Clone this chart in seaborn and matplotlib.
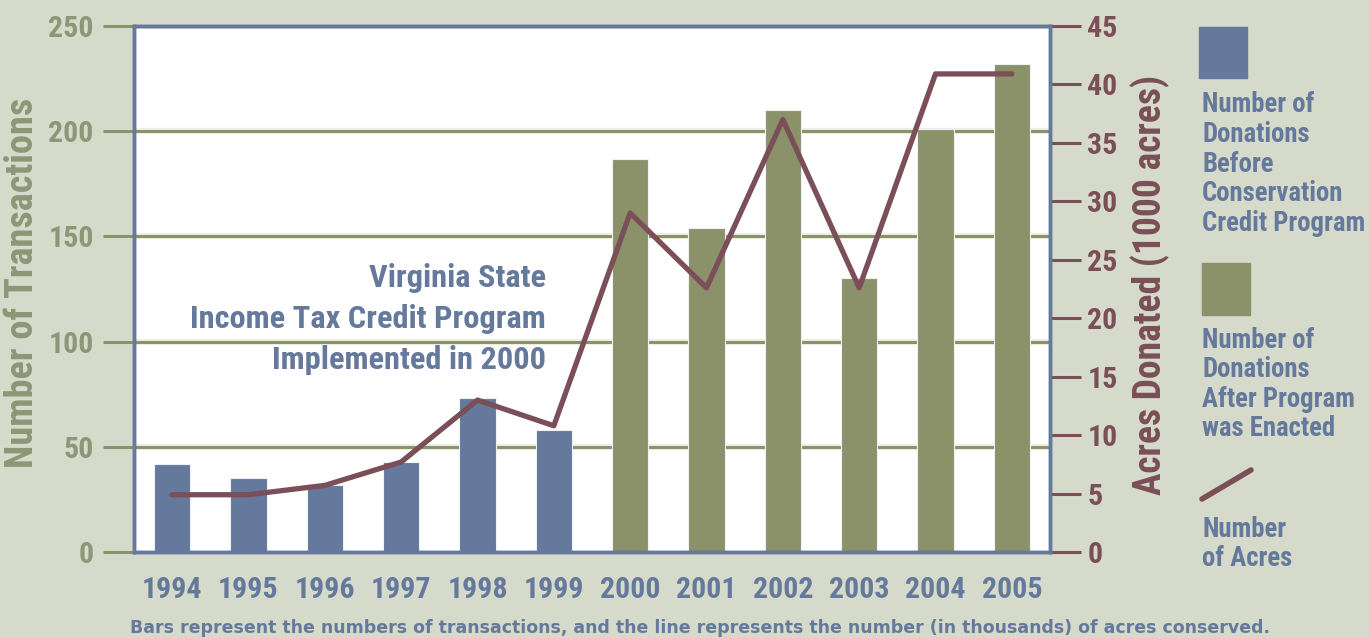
import numpy as np
import pandas as pd
import matplotlib
matplotlib.use("Agg")
import matplotlib.pyplot as plt
import matplotlib.font_manager as fm
import seaborn as sns
from matplotlib.patches import Rectangle
from matplotlib.lines import Line2D
from matplotlib.ticker import FixedLocator

years = ["1994", "1995", "1996", "1997", "1998", "1999",
         "2000", "2001", "2002", "2003", "2004", "2005"]
transactions = [42, 35, 32, 43, 73, 58, 187, 154, 210, 130, 201, 232]
acres = [4.9, 4.9, 5.7, 7.7, 13.0, 10.8, 29.0, 22.6, 37.0, 22.6, 40.9, 40.9]
period = ["Before"] * 6 + ["After"] * 6

left_ticks = [0, 50, 100, 150, 200, 250]
right_ticks = [0, 5, 10, 15, 20, 25, 30, 35, 40, 45]

BG = "#d6dacb"
BLUE = "#64799b"
OLIVE = "#8b926a"
MAROON = "#7a4f57"
LABEL_OLIVE = "#8e9677"

sns.set_theme(style="white")
plt.rcParams["font.family"] = ["DejaVu Sans"]

def find_condensed():
    prefs = ["RobotoCondensed-Bold", "LiberationSansNarrow-Bold.",
             "DejaVuSansCondensed-Bold.", "OpenSans_Condensed-Bold",
             "OpenSansCondensed-Bold", "NotoSans-CondensedBold",
             "Roboto_Condensed-Bold"]
    files = [f.fname for f in fm.fontManager.ttflist]
    for p in prefs:
        for fn in files:
            if p.lower() in fn.lower().replace(" ", ""):
                return fn
    for fn in files:
        low = fn.lower()
        if ("condensed" in low or "narrow" in low) and "bold" in low and "italic" not in low and "oblique" not in low:
            return fn
    return None

CF = find_condensed()
COND = CF is not None

def fp(size):
    if COND:
        return fm.FontProperties(fname=CF, size=size)
    return fm.FontProperties(family="DejaVu Sans", weight="bold",
                             stretch="condensed", size=size * 0.82)

W, H = 1369, 638
fig = plt.figure(figsize=(W / 100, H / 100), dpi=100, facecolor=BG)
ax = fig.add_axes([134 / W, (H - 552) / H, 916 / W, 526 / H])
ax.set_facecolor("white")

df = pd.DataFrame({"year": years, "n": transactions, "period": period})

for t in left_ticks[1:]:
    ax.axhline(t, color="#eef0e6", lw=4.5, zorder=0.5)
    ax.axhline(t, color=OLIVE, lw=2.2, zorder=0.6)

sns.barplot(data=df, x="year", y="n", hue="period",
            palette={"Before": BLUE, "After": OLIVE},
            dodge=False, width=0.48, saturation=1, legend=False, ax=ax,
            zorder=2, edgecolor="#eef0f4", linewidth=0.8)

ax.set_xlim(-0.5, 11.5)
ax.set_ylim(0, 250)
ax.set_xlabel("")
ax.set_ylabel("Number of Transactions", color=LABEL_OLIVE,
              fontproperties=fp(27.5))
ax.yaxis.set_label_coords((41 - 134) / 916, (552 - 283) / 526)
ax.set_yticks(left_ticks)
ax.set_yticklabels([str(t) for t in left_ticks])
ax.tick_params(axis="y", colors=OLIVE, length=22, width=2.2, pad=7,
               labelcolor=LABEL_OLIVE)
ax.set_xticks(range(len(years)))
ax.set_xticklabels(years)
ax.tick_params(axis="x", which="major", length=0, pad=17, labelcolor=BLUE)
ax.xaxis.set_minor_locator(FixedLocator(np.arange(-0.5, 12, 1.0)))
ax.tick_params(axis="x", which="minor", length=25, width=2, color=BLUE,
               direction="out")
for s in ax.spines.values():
    s.set_color(BLUE)
    s.set_linewidth(2.5)
for lab in ax.get_yticklabels():
    lab.set_fontproperties(fp(21.5))
for lab in ax.get_xticklabels():
    lab.set_fontproperties(fp(21.5))

ax2 = ax.twinx()
sns.lineplot(x=np.arange(len(years)), y=acres, color=MAROON, lw=3.8, ax=ax2,
             zorder=5)
ax2.set_ylim(0, 45)
ax2.set_yticks(right_ticks)
ax2.set_yticklabels([str(t) for t in right_ticks])
ax2.tick_params(axis="y", colors=MAROON, length=22, width=2.2, pad=5,
                labelcolor=MAROON)
for lab in ax2.get_yticklabels():
    lab.set_fontproperties(fp(21.5))
ax2.set_ylabel("Acres Donated (1000 acres)", color=MAROON,
               fontproperties=fp(27))
ax2.yaxis.set_label_coords((1131 - 134) / 916, (552 - 285) / 526)
for s in ax2.spines.values():
    s.set_color(BLUE)
    s.set_linewidth(2.5)

fig.text(546 / W, 1 - 319 / H,
         "Virginia State\nIncome Tax Credit Program\nImplemented in 2000",
         ha="right", va="center", color=BLUE, fontproperties=fp(23.3),
         linespacing=1.45, multialignment="right")

fig.add_artist(Rectangle((1199 / W, 1 - 78 / H), 48 / W, 51 / H,
                         transform=fig.transFigure, color=BLUE))
fig.text(1202 / W, 1 - 164 / H,
         "Number of\nDonations\nBefore\nConservation\nCredit Program",
         ha="left", va="center", color=BLUE, fontproperties=fp(19.3),
         linespacing=1.12)
fig.add_artist(Rectangle((1202 / W, 1 - 315 / H), 48 / W, 52 / H,
                         transform=fig.transFigure, color=OLIVE))
fig.text(1202 / W, 1 - 384.5 / H,
         "Number of\nDonations\nAfter Program\nwas Enacted",
         ha="left", va="center", color=BLUE, fontproperties=fp(19.3),
         linespacing=1.12)
fig.add_artist(Line2D([1202 / W, 1251 / W], [1 - 499 / H, 1 - 470 / H],
                      transform=fig.transFigure, color=MAROON, lw=4))
fig.text(1202 / W, 1 - 544 / H, "Number\nof Acres",
         ha="left", va="center", color=BLUE, fontproperties=fp(19.3),
         linespacing=1.12)

fig.text(700 / W, 1 - 628 / H,
         "Bars represent the numbers of transactions, and the line represents the number (in thousands) of acres conserved.",
         ha="center", va="center", color=BLUE, fontsize=12.5, fontweight="bold",
         family=["DejaVu Sans"])

fig.savefig("out.png", dpi=100, facecolor=BG)
